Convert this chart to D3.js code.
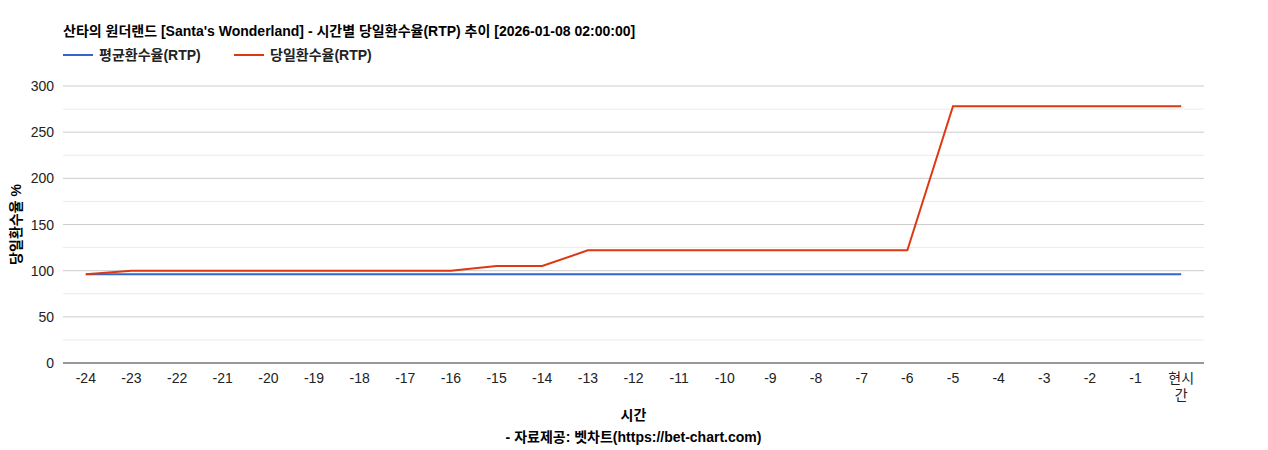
<!DOCTYPE html>
<html lang="ko">
<head>
<meta charset="utf-8">
<script src="https://cdn.jsdelivr.net/npm/d3@7"></script>
<style>
  body { margin: 0; background: #fff; }
  text { font-family: "Liberation Sans", Arial, "Noto Sans CJK KR", sans-serif; }
</style>
</head>
<body>
<script>
var categories = ["-24","-23","-22","-21","-20","-19","-18","-17","-16","-15","-14","-13","-12",
                  "-11","-10","-9","-8","-7","-6","-5","-4","-3","-2","-1","현시간"];
var avgRtp = [96,96,96,96,96,96,96,96,96,96,96,96,96,96,96,96,96,96,96,96,96,96,96,96,96];
var dayRtp = [96,100,100,100,100,100,100,100,100,105,105,122,122,122,122,122,122,122,122,278,278,278,278,278,278];
var yTicks = [0, 50, 100, 150, 200, 250, 300];

var w = 1268, h = 450;
var m = { left: 63, right: 64, top: 86, bottom: 87 };

var svg = d3.select("body").append("svg").attr("width", w).attr("height", h);

var x = d3.scaleBand().domain(categories).range([m.left, w - m.right]);
var y = d3.scaleLinear().domain([0, 300]).range([h - m.bottom, m.top]);

// minor grid
svg.selectAll("line.minor").data(d3.range(25, 300, 50)).enter().append("line")
  .attr("x1", m.left).attr("x2", w - m.right)
  .attr("y1", function(d) { return y(d); }).attr("y2", function(d) { return y(d); })
  .attr("stroke", "#ebebeb");
// major grid
svg.selectAll("line.major").data(yTicks.slice(1)).enter().append("line")
  .attr("x1", m.left).attr("x2", w - m.right)
  .attr("y1", function(d) { return y(d); }).attr("y2", function(d) { return y(d); })
  .attr("stroke", "#cccccc");

// y labels
svg.selectAll("text.yl").data(yTicks).enter().append("text")
  .attr("x", m.left - 9).attr("y", function(d) { return y(d) + 5; })
  .attr("text-anchor", "end").attr("font-size", 14).attr("fill", "#222")
  .text(function(d) { return d; });

// baseline
svg.append("line").attr("x1", m.left).attr("x2", w - m.right)
  .attr("y1", y(0)).attr("y2", y(0)).attr("stroke", "#333");

// x labels
categories.forEach(function(c) {
  var cx = x(c) + x.bandwidth() / 2;
  var t = svg.append("text").attr("x", cx).attr("y", y(0) + 20)
    .attr("text-anchor", "middle").attr("font-size", 14).attr("fill", "#222");
  if (c === "현시간") {
    t.append("tspan").attr("x", cx).text("현시");
    t.append("tspan").attr("x", cx).attr("dy", 17).text("간");
  } else {
    t.text(c);
  }
});

var line = d3.line()
  .x(function(d, i) { return x(categories[i]) + x.bandwidth() / 2; })
  .y(function(d) { return y(d); });

svg.append("path").datum(avgRtp).attr("d", line)
  .attr("fill", "none").attr("stroke", "#3366cc").attr("stroke-width", 2);
svg.append("path").datum(dayRtp).attr("d", line)
  .attr("fill", "none").attr("stroke", "#dc3912").attr("stroke-width", 2);

// title
svg.append("text").attr("x", 63).attr("y", 36)
  .attr("font-size", 14).attr("font-weight", "bold").attr("fill", "#000")
  .text("산타의 원더랜드 [Santa's Wonderland] - 시간별 당일환수율(RTP) 추이 [2026-01-08 02:00:00]");

// legend
var legend = [["평균환수율(RTP)", "#3366cc", 63], ["당일환수율(RTP)", "#dc3912", 234]];
legend.forEach(function(l) {
  svg.append("line").attr("x1", l[2]).attr("x2", l[2] + 30).attr("y1", 55).attr("y2", 55)
    .attr("stroke", l[1]).attr("stroke-width", 2);
  svg.append("text").attr("x", l[2] + 36).attr("y", 60)
    .attr("font-size", 14).attr("font-weight", "bold").attr("fill", "#222").text(l[0]);
});

// axis titles
svg.append("text").attr("x", (m.left + w - m.right) / 2).attr("y", 420)
  .attr("text-anchor", "middle").attr("font-size", 14).attr("font-weight", "bold").text("시간");
svg.append("text").attr("x", (m.left + w - m.right) / 2).attr("y", 442)
  .attr("text-anchor", "middle").attr("font-size", 14).attr("font-weight", "bold")
  .text("- 자료제공: 벳차트(https://bet-chart.com)");
svg.append("text").attr("transform", "translate(21," + y(150) + ") rotate(-90)")
  .attr("text-anchor", "middle").attr("font-size", 14).attr("font-weight", "bold")
  .text("당일환수율 %");
</script>
</body>
</html>
